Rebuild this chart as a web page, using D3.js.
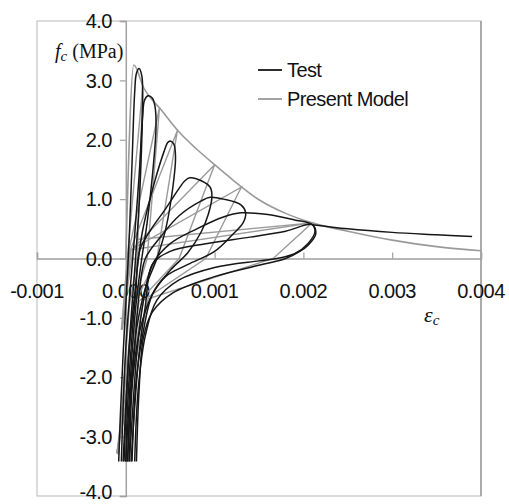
<!DOCTYPE html>
<html><head><meta charset="utf-8">
<script src="https://cdn.jsdelivr.net/npm/d3@7"></script>
<style>
html,body{margin:0;padding:0;background:#fff;}
svg{display:block;}
</style></head>
<body>
<svg id="chart" width="509" height="504"></svg>
<script>
// ---------- DATA ----------
const xTicks = [-0.001, 0.000, 0.001, 0.002, 0.003, 0.004];
const xTickLabels = ["-0.001", "0.000", "0.001", "0.002", "0.003", "0.004"];
const yTicks = [-4, -3, -2, -1, 0, 1, 2, 3, 4];
const yTickLabels = ["-4.0", "-3.0", "-2.0", "-1.0", "0.0", "1.0", "2.0", "3.0", "4.0"];
const seriesNames = ["Test", "Present Model"];

// Present model: tension envelope (strain, MPa)
const modelEnvelope = [[0,0],[0.00009,3.26],[0.0002,2.88],[0.0004,2.5],[0.0006,2.13],[0.0008,1.84],[0.001,1.58],[0.0012,1.33],[0.0015,0.99],[0.0018,0.76],[0.0021,0.6],[0.0025,0.46],[0.003,0.31],[0.0035,0.2],[0.004,0.13]];
// Present model: unloading / reloading cycles
const modelCycle1 = [[-0.00005,-1.2],[0.00002,0.05],[0.00019,2.9],[0.00013,0],[0.00004,-0.8],[-0.00008,-3.3]];
const modelCycle2 = [[-0.00004,-1.2],[0.00003,0.1],[0.00038,2.55],[0.00024,0],[0.00008,-0.8],[-0.00009,-3.3]];
const modelCycle3 = [[-0.00004,-1.2],[0.00004,0.1],[0.00058,2.15],[0.00035,0],[0.0001,-0.75],[-0.0001,-3.28]];
const modelCycle4 = [[-0.00003,-1.1],[0.00005,0.12],[0.001,1.58],[0.0006,0],[0.00015,-0.72],[-0.0001,-3.28]];
const modelCycle5 = [[-0.00003,-1.0],[0.00006,0.15],[0.0013,1.2],[0.0009,0],[0.0002,-0.7],[-0.0001,-3.28]];
const modelCycle6 = [[-0.00003,-1.0],[0.00008,0.15],[0.0021,0.6],[0.00166,0],[0.00025,-0.68],[-0.0001,-3.28]];
const modelCycle7 = [[0.00012,0.32],[0.0021,0.6]];

// Test: measured cycles
const testCycle1 = [[-0.00008,-3.42],[-0.00006,-2.6],[-0.00003,-1.6],[0.00001,-0.5],[0.00004,0.4],[0.00007,1.6],[0.0001,2.8],[0.00012,3.12],[0.00015,3.2],[0.00018,3.08],[0.00019,2.8],[0.00018,2.0],[0.00015,0.9],[0.0001,-0.2],[0.00005,-1.2],[0.00001,-2.3],[-0.00002,-3.42]];
const testCycle2 = [[-0.00005,-3.42],[-0.00003,-2.5],[0.0,-1.5],[0.00005,-0.5],[0.0001,0.4],[0.00015,1.4],[0.00019,2.4],[0.00021,2.66],[0.00025,2.74],[0.0003,2.7],[0.00033,2.55],[0.00034,2.2],[0.0003,1.4],[0.00024,0.6],[0.00018,0.0],[0.00012,-0.7],[0.00007,-1.6],[0.00003,-2.6],[0.0,-3.42]];
const testCycle3 = [[-0.00003,-3.42],[0.0,-2.5],[0.00004,-1.5],[0.0001,-0.6],[0.00015,0.1],[0.0002,0.55],[0.00033,1.32],[0.00043,1.8],[0.00047,1.95],[0.0005,1.98],[0.00054,1.93],[0.00056,1.7],[0.00053,1.2],[0.00045,0.5],[0.00035,0.0],[0.00022,-0.5],[0.00012,-1.2],[0.00006,-2.1],[0.00002,-3.42]];
const testCycle4 = [[0.0,-3.42],[0.00002,-2.5],[0.00006,-1.5],[0.00011,-0.6],[0.00016,0.15],[0.00028,0.48],[0.00044,0.82],[0.0006,1.18],[0.00066,1.3],[0.00072,1.36],[0.00085,1.31],[0.00095,1.2],[0.00097,1.05],[0.00093,0.75],[0.00085,0.45],[0.0007,0.1],[0.0005,-0.2],[0.0003,-0.6],[0.00016,-1.2],[0.00008,-2.0],[0.00004,-3.42]];
const testCycle5 = [[0.00002,-3.42],[0.00005,-2.5],[0.0001,-1.5],[0.00015,-0.6],[0.00022,0.0],[0.0004,0.38],[0.0006,0.72],[0.00085,0.97],[0.00095,1.03],[0.0011,1.0],[0.0013,0.9],[0.00135,0.77],[0.00132,0.6],[0.0012,0.4],[0.001,0.12],[0.0007,-0.1],[0.00045,-0.3],[0.0003,-0.6],[0.0002,-1.2],[0.00012,-2.0],[0.00007,-3.42]];
const testCycle6 = [[0.00004,-3.42],[0.00008,-2.5],[0.00013,-1.5],[0.0002,-0.7],[0.0003,-0.1],[0.0005,0.25],[0.0008,0.5],[0.0011,0.7],[0.0013,0.77],[0.0016,0.74],[0.0019,0.65],[0.0021,0.57],[0.00213,0.45],[0.00205,0.25],[0.0019,0.08],[0.0017,0.0],[0.0015,-0.04],[0.001,-0.15],[0.0006,-0.36],[0.00035,-0.7],[0.00022,-1.3],[0.00014,-2.2],[0.0001,-3.42]];
const testCycle7 = [[0.00006,-3.42],[0.0001,-2.5],[0.00015,-1.6],[0.00022,-0.8],[0.0003,-0.1],[0.0005,0.12],[0.0009,0.25],[0.0014,0.36],[0.0018,0.46],[0.0021,0.57],[0.00214,0.42],[0.00205,0.22],[0.00196,0.12],[0.0018,0.0],[0.00151,-0.11],[0.00099,-0.31],[0.00053,-0.58],[0.0003,-0.9],[0.0002,-1.32],[0.00015,-2.2],[0.00012,-3.42]];
const testTail = [[0.0021,0.57],[0.0025,0.5],[0.003,0.44],[0.0035,0.4],[0.0039,0.37]];

// ---------- LAYOUT ----------
const svg = d3.select("#chart");
svg.append("rect").attr("width",509).attr("height",504).attr("fill","#fff");
const L = 37, R = 481, T = 21, B = 496;
const x = d3.scaleLinear().domain([-0.001, 0.004]).range([L, R]);
const y = d3.scaleLinear().domain([-4, 4]).range([B, T]);

const BLACK = "#161616", GRAY = "#9a9a9a";
const FONT = "'Liberation Sans', Arial, sans-serif";

// plot frame
svg.append("rect").attr("x",L).attr("y",T).attr("width",R-L).attr("height",B-T)
  .attr("fill","none").attr("stroke","#c4c4c4").attr("stroke-width",1.2);
svg.append("line").attr("x1",R).attr("x2",R).attr("y1",T).attr("y2",B)
  .attr("stroke","#8a8a8a").attr("stroke-width",1.2);

// axes through origin
const xAxis = d3.axisTop(x).tickValues(xTicks).tickSize(6).tickFormat("");
const gx = svg.append("g").attr("transform",`translate(0,${y(0)})`).call(xAxis);
gx.select(".domain").attr("stroke","#a0a0a0").attr("stroke-width",1.5);
gx.selectAll(".tick line").attr("stroke","#a0a0a0").attr("stroke-width",1.2);

const yAxis = d3.axisLeft(y).tickValues(yTicks).tickSize(6).tickFormat("");
const gy = svg.append("g").attr("transform",`translate(${x(0)},0)`).call(yAxis);
gy.select(".domain").attr("stroke","#a0a0a0").attr("stroke-width",1.5);
gy.selectAll(".tick line").attr("stroke","#a0a0a0").attr("stroke-width",1.2);

// tick labels
svg.append("g").selectAll("text").data(xTicks).join("text")
  .attr("x", d => x(d)).attr("y", y(0) + 39)
  .attr("text-anchor","middle")
  .attr("font-family",FONT).attr("font-size",20).attr("letter-spacing",-0.5)
  .attr("fill","#111")
  .text((d,i) => xTickLabels[i]);
svg.append("g").selectAll("text").data(yTicks).join("text")
  .attr("x", 112).attr("y", d => Math.min(y(d), 492)).attr("dy","0.36em")
  .attr("text-anchor","end")
  .attr("font-family",FONT).attr("font-size",20).attr("letter-spacing",-0.5)
  .attr("fill","#111")
  .text((d,i) => yTickLabels[i]);

// axis titles
const yt = svg.append("text").attr("x",55).attr("y",58)
  .attr("font-family","'Liberation Serif','Times New Roman',serif").attr("font-size",20).attr("fill","#111");
yt.append("tspan").attr("font-style","italic").text("f");
yt.append("tspan").attr("font-style","italic").attr("font-size",15).attr("dy",3).text("c");
yt.append("tspan").attr("dy",-3).text(" (MPa)");

const xt = svg.append("text").attr("x",424).attr("y",322)
  .attr("font-family","'Liberation Serif','Times New Roman',serif").attr("font-size",22).attr("fill","#111");
xt.append("tspan").attr("font-style","italic").text("ε");
xt.append("tspan").attr("font-style","italic").attr("font-size",15).attr("dy",3).text("c");

// clip
svg.append("clipPath").attr("id","clip").append("rect")
  .attr("x",L).attr("y",T).attr("width",R-L).attr("height",B-T);
const plot = svg.append("g").attr("clip-path","url(#clip)");

const lineStraight = d3.line().x(d => x(d[0])).y(d => y(d[1]));
const lineSmooth = d3.line().x(d => x(d[0])).y(d => y(d[1])).curve(d3.curveCatmullRom.alpha(0.5));
const lineEnv = d3.line().x(d => x(d[0])).y(d => y(d[1])).curve(d3.curveMonotoneX);

// model (gray)
const modelCycles = [modelCycle1, modelCycle2, modelCycle3, modelCycle4, modelCycle5, modelCycle6, modelCycle7];
plot.selectAll("path.model").data(modelCycles).join("path").attr("class","model")
  .attr("d", lineStraight).attr("fill","none").attr("stroke",GRAY).attr("stroke-width",1.4);
plot.append("path").datum(modelEnvelope).attr("d", lineEnv)
  .attr("fill","none").attr("stroke",GRAY).attr("stroke-width",1.6);

// test (black)
const testCycles = [testCycle1, testCycle2, testCycle3, testCycle4, testCycle5, testCycle6, testCycle7, testTail];
plot.selectAll("path.test").data(testCycles).join("path").attr("class","test")
  .attr("d", lineSmooth).attr("fill","none").attr("stroke",BLACK).attr("stroke-width",1.5)
  .attr("stroke-linejoin","round");

// legend
const leg = svg.append("g");
const legY = [70, 99], legCol = [BLACK, GRAY];
seriesNames.forEach((s,i) => {
  leg.append("line").attr("x1",258).attr("x2",282).attr("y1",legY[i]).attr("y2",legY[i])
    .attr("stroke",legCol[i]).attr("stroke-width",1.8);
  leg.append("text").attr("x",287).attr("y",legY[i]).attr("dy","0.36em")
    .attr("font-family",FONT).attr("font-size",20).attr("letter-spacing",-0.6)
    .attr("fill","#111").text(s);
});
</script>
</body></html>
